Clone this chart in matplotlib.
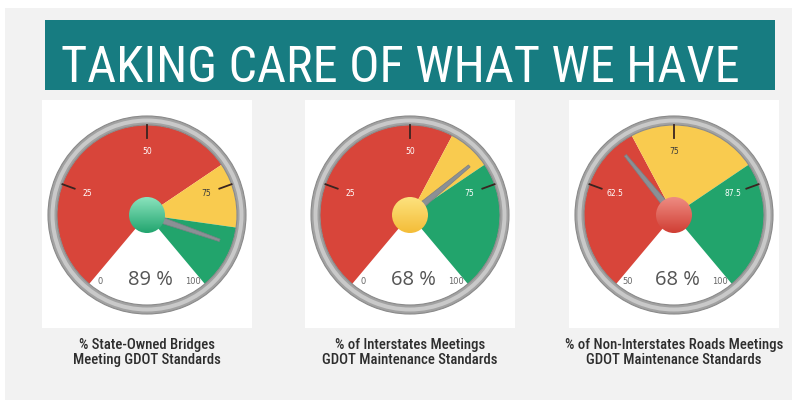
import numpy as np
import matplotlib
matplotlib.use('Agg')
import matplotlib.pyplot as plt
from matplotlib.patches import Wedge, Circle, Rectangle, Polygon
from matplotlib.colors import LinearSegmentedColormap
from matplotlib import font_manager

title = 'TAKING CARE OF WHAT WE HAVE'
captions = ['% State-Owned Bridges\nMeeting GDOT Standards',
            '% of Interstates Meetings\nGDOT Maintenance Standards',
            '% of Non-Interstates Roads Meetings\nGDOT Maintenance Standards']
values = [89, 68, 68]
scale_lo = [0, 0, 50]
scale_hi = [100, 100, 100]
red_end = [70, 60, 70]        # red zone runs from scale_lo up to here
yellow_end = [85, 70, 85]     # then yellow, then green up to scale_hi
tick_labels = [['25', '50', '75'], ['25', '50', '75'], ['62.5', '75', '87.5']]
end_labels = [['0', '100'], ['0', '100'], ['50', '100']]

RED, YELLOW, GREEN = '#d8453a', '#f9cb4f', '#22a46c'
hub_shades = {RED: ('#ee8c82', '#d03e34'),
              YELLOW: ('#fde27e', '#f4bd38'),
              GREEN: ('#8ae3bd', '#22a56f')}

W, H = 803, 405
gauge_x = [147, 410, 674]
cy = 215
R_face, R_ring, R_hub = 90, 99, 18


def pick_font(names):
    have = {f.name for f in font_manager.fontManager.ttflist}
    for n in names:
        if n in have:
            return n
    return 'DejaVu Sans'


def fit_width(txt, width, renderer):
    w = txt.get_window_extent(renderer).width
    txt.set_fontsize(txt.get_fontsize() * width / w)


def ang(v, lo, hi):
    # 280 degree dial, low end bottom-left, high end bottom-right
    return 230 - 280 * (v - lo) / (hi - lo)


def polar(cx, r, a):
    t = np.radians(a)
    return cx + r * np.cos(t), cy - r * np.sin(t)


narrow = pick_font(['Liberation Sans Narrow', 'Roboto Condensed', 'Roboto'])
plain = pick_font(['Open Sans', 'Roboto'])

fig = plt.figure(figsize=(W / 100, H / 100), dpi=100)
fig.patch.set_facecolor('white')
ax = fig.add_axes([0, 0, 1, 1])
ax.axis('off')

# background panel and title banner
ax.add_patch(Rectangle((5, 8), 787, 392, fc='#f2f2f2', ec='none', zorder=0))
ax.add_patch(Rectangle((45, 20), 730, 70, fc='#177c81', ec='none', zorder=1))
t_title = ax.text(400, 82, title, ha='center', va='baseline', color='white',
                  fontsize=30, family=narrow, fontweight='normal', zorder=2)

renderer = fig.canvas.get_renderer()
fit_width(t_title, 680, renderer)

pct_texts = []
cap_texts = []
for i, cx in enumerate(gauge_x):
    lo, hi, v = scale_lo[i], scale_hi[i], values[i]
    ax.add_patch(Rectangle((cx - 105, 100), 210, 228, fc='white', ec='none', zorder=1))

    # dial face and coloured zones
    ax.add_patch(Circle((cx, cy), R_face, fc='white', ec='none', zorder=2))
    zones = [(lo, red_end[i], RED), (red_end[i], yellow_end[i], YELLOW),
             (yellow_end[i], hi, GREEN)]
    for a, b, col in zones:
        ax.add_patch(Wedge((cx, cy), R_face, -ang(a, lo, hi), -ang(b, lo, hi),
                           fc=col, ec='none', zorder=3))

    # bezel
    ax.add_patch(Wedge((cx, cy), R_ring, 0, 360, width=R_ring - R_face,
                       fc='#a2a2a2', ec='#8a8a8a', lw=0.8, zorder=4))
    ax.add_patch(Wedge((cx, cy), R_ring - 2.5, 0, 360, width=4,
                       fc='#c9c9c9', ec='none', zorder=4))

    # major ticks
    for lab in tick_labels[i]:
        tv = float(lab)
        a = ang(tv, lo, hi)
        x0, y0 = polar(cx, 77, a)
        x1, y1 = polar(cx, R_face, a)
        ax.plot([x0, x1], [y0, y1], color='#3a2420', lw=1.3, zorder=5)
        zcol = [c for za, zb, c in zones if za <= tv <= zb][0]
        tx, ty = polar(cx, 63, a)
        ax.text(tx, ty, lab, ha='center', va='center', fontsize=5.5,
                color='#3a3a3a' if zcol == YELLOW else 'white', zorder=7)

    # scale ends sit at the edges of the white gap
    for lab, a in zip(end_labels[i], (ang(lo, lo, hi) + 5, ang(hi, lo, hi) - 5)):
        tx, ty = polar(cx, 81, a)
        ax.text(tx, ty, lab, ha='center', va='center', fontsize=6,
                color='#666666', zorder=7)

    # needle
    a = np.radians(ang(v, lo, hi))
    d = np.array([np.cos(a), -np.sin(a)])
    n = np.array([np.sin(a), np.cos(a)])
    c = np.array([cx, cy])
    pts = [c - d * 4 + n * 3.6, c + d * 77 + n * 1.3,
           c + d * 77 - n * 1.3, c - d * 4 - n * 3.6]
    ax.add_patch(Polygon(pts, closed=True, fc='#8b9095', ec='#7a7f84', lw=0.5, zorder=6))

    # hub, shaded by the zone the value falls in
    hcol = [cz for za, zb, cz in zones if za <= v <= zb][0]
    light, dark = hub_shades[hcol]
    hub = Circle((cx, cy), R_hub, transform=ax.transData)
    grad = np.linspace(0, 1, 64).reshape(-1, 1)
    im = ax.imshow(grad, cmap=LinearSegmentedColormap.from_list('hub', [light, dark]),
                   extent=(cx - R_hub, cx + R_hub, cy + R_hub, cy - R_hub),
                   origin='upper', aspect='auto', zorder=7)
    im.set_clip_path(hub)

    pct_texts.append(ax.text(cx + 3, 285, f'{v} %', ha='center', va='baseline',
                             fontsize=16, color='#555555', family=plain, zorder=7))
    cap_texts.append(ax.text(cx, 338, captions[i], ha='center', va='top',
                             multialignment='center', fontsize=10, linespacing=1.05,
                             color='#2e2e2e', family=narrow, fontweight='medium', zorder=7))

fit_width(pct_texts[0], 45, renderer)
for t in pct_texts[1:]:
    t.set_fontsize(pct_texts[0].get_fontsize())
fit_width(cap_texts[2], 218, renderer)
for t in cap_texts[:2]:
    t.set_fontsize(cap_texts[2].get_fontsize())

ax.set_xlim(0, W)
ax.set_ylim(H, 0)
fig.savefig('out.png', dpi=100, facecolor='white')
